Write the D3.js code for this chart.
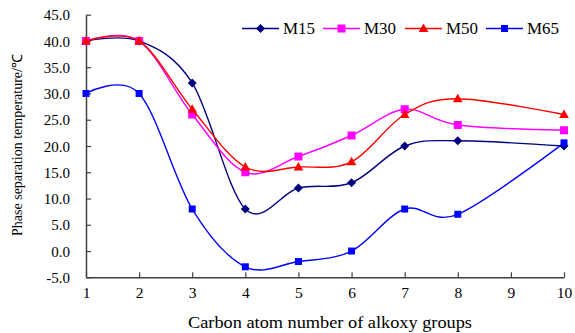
<!DOCTYPE html>
<html>
<head>
<meta charset="utf-8">
<script src="https://cdn.jsdelivr.net/npm/d3@7"></script>
<style>
  html, body { margin: 0; padding: 0; background: #fff; }
  svg { display: block; }
  text { font-family: "Liberation Serif", "Times New Roman", serif; fill: #000; }
</style>
</head>
<body>
<svg id="chart" width="575" height="333"></svg>
<script>
// Number of carbon atoms in the alkoxy group (no sample at 9)
const carbons = [1, 2, 3, 4, 5, 6, 7, 8, 10];
// Phase separation temperature (°C) for each series
const m15 = [40, 40, 32, 8, 12, 13, 20, 21, 20];
const m30 = [40, 40, 26, 15, 18, 22, 27, 24, 23];
const m50 = [40, 40, 27, 16, 16, 17, 26, 29, 26];
const m65 = [30, 30, 8, -3, -2, 0, 8, 7, 20.6];

const seriesNames = ["M15", "M30", "M50", "M65"];
const xTicks = [1, 2, 3, 4, 5, 6, 7, 8, 9, 10];
const yTicks = [-5, 0, 5, 10, 15, 20, 25, 30, 35, 40, 45];

const series = [
  { name: seriesNames[0], values: m15, color: "#000080", shape: "diamond" },
  { name: seriesNames[1], values: m30, color: "#FF00FF", shape: "square" },
  { name: seriesNames[2], values: m50, color: "#FF0000", shape: "triangle" },
  { name: seriesNames[3], values: m65, color: "#0000FF", shape: "squareSmall" }
];

const svg = d3.select("#chart");
const x = d3.scaleLinear().domain([1, 10]).range([86, 564]);
const y = d3.scaleLinear().domain([-5, 45]).range([277.3, 14.7]);
const axisColor = "#404040";
const serif = "Liberation Serif";

// Axes: ticks drawn on the inside of the plot
const xAxis = svg.append("g")
  .attr("transform", `translate(0,${y(-5)})`)
  .call(d3.axisBottom(x).tickValues(xTicks).tickSizeInner(-5).tickSizeOuter(0).tickFormat(d3.format("d")));
xAxis.attr("font-family", serif);
xAxis.select(".domain").attr("stroke", axisColor).attr("stroke-width", 1.5);
xAxis.selectAll(".tick line").attr("stroke", axisColor).attr("stroke-width", 1.2);
xAxis.selectAll(".tick text")
  .attr("y", 21).attr("dy", 0)
  .style("font-size", "15.5px").style("font-family", serif);

const yAxis = svg.append("g")
  .attr("transform", `translate(${x(1)},0)`)
  .call(d3.axisLeft(y).tickValues(yTicks).tickSizeInner(-5).tickSizeOuter(0).tickFormat(d3.format(".1f")));
yAxis.attr("font-family", serif);
yAxis.select(".domain").attr("stroke", axisColor).attr("stroke-width", 1.5);
yAxis.selectAll(".tick line").attr("stroke", axisColor).attr("stroke-width", 1.2);
yAxis.selectAll(".tick text")
  .attr("x", -16).attr("dy", "0.34em")
  .style("font-size", "15px").style("font-family", serif)
  .text(d => d3.format(".1f")(d).replace("−", "-"));

// Smoothed series lines
const line = d3.line()
  .x(d => x(d[0]))
  .y(d => y(d[1]))
  .curve(d3.curveCardinal.tension(0));

function drawMarker(g, shape, color, cx, cy) {
  if (shape === "diamond") {
    g.append("path")
      .attr("d", `M${cx},${cy - 4.5}L${cx + 4.5},${cy}L${cx},${cy + 4.5}L${cx - 4.5},${cy}Z`)
      .attr("fill", color);
  } else if (shape === "square") {
    g.append("rect").attr("x", cx - 4).attr("y", cy - 4).attr("width", 8).attr("height", 8).attr("fill", color);
  } else if (shape === "squareSmall") {
    g.append("rect").attr("x", cx - 3.5).attr("y", cy - 3.5).attr("width", 7).attr("height", 7).attr("fill", color);
  } else if (shape === "triangle") {
    g.append("path")
      .attr("d", `M${cx},${cy - 5}L${cx + 4.8},${cy + 3.5}L${cx - 4.8},${cy + 3.5}Z`)
      .attr("fill", color);
  }
}

series.forEach(s => {
  const pts = carbons.map((c, i) => [c, s.values[i]]);
  const g = svg.append("g");
  g.append("path")
    .attr("d", line(pts))
    .attr("fill", "none")
    .attr("stroke", s.color)
    .attr("stroke-width", 1.4);
  pts.forEach(p => drawMarker(g, s.shape, s.color, x(p[0]), y(p[1])));
});

// Legend across the top
const legendX = [242, 323, 405, 486];
const legendY = 28.5;
series.forEach((s, i) => {
  const g = svg.append("g");
  const x0 = legendX[i];
  g.append("line").attr("x1", x0).attr("x2", x0 + 37).attr("y1", legendY).attr("y2", legendY)
    .attr("stroke", s.color).attr("stroke-width", 1.4);
  drawMarker(g, s.shape, s.color, x0 + 18.5, legendY);
  g.append("text").attr("x", x0 + 41).attr("y", legendY).attr("dy", "0.35em")
    .attr("textLength", 32).attr("lengthAdjust", "spacingAndGlyphs")
    .style("font-size", "16px").text(s.name);
});

// Axis titles
svg.append("text")
  .attr("x", 188).attr("y", 328)
  .attr("textLength", 284).attr("lengthAdjust", "spacingAndGlyphs")
  .style("font-size", "16px")
  .text("Carbon atom number of alkoxy groups");

svg.append("text")
  .attr("transform", "translate(22,145) rotate(-90)")
  .attr("text-anchor", "middle")
  .style("font-size", "14px")
  .text("Phase separation temperature/℃");
</script>
</body>
</html>
